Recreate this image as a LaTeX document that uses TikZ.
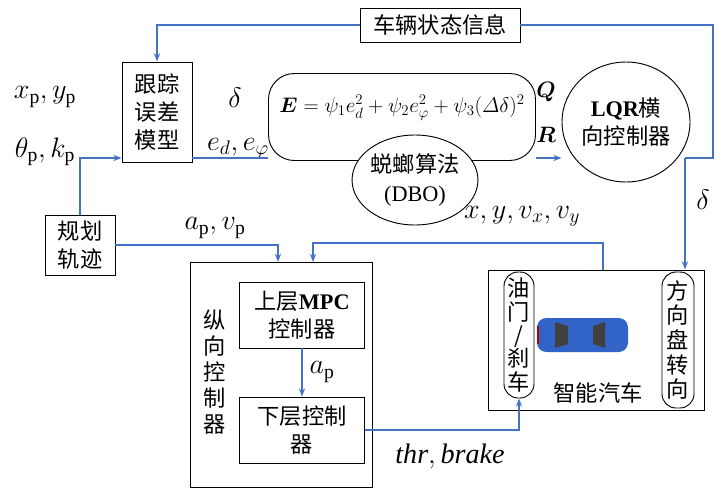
\RequirePackage{fix-cm}
\documentclass[tikz,border=0pt]{standalone}
\usepackage{amsmath}
\usepackage{fontspec}
\setmainfont{Liberation Serif}
\newfontfamily\cjk{Noto Sans CJK SC}
\usetikzlibrary{arrows.meta}
\usetikzlibrary{shapes.geometric}
\definecolor{wireblue}{RGB}{68,114,196}
\definecolor{carblue}{RGB}{50,100,200}

\tikzset{
	box/.style={draw,thick,align=center,font=\cjk\fontsize{19}{24}\selectfont},
	pill/.style={box,rounded corners=12pt},
	oval/.style={ellipse,draw,thick,align=center,font=\cjk\fontsize{19}{24}\selectfont},
	lab/.style={font=\fontsize{24}{26}\selectfont},
	wire/.style={draw=wireblue,line width=1.2pt,-{Stealth[length=7pt]}},
	line/.style={draw=wireblue,line width=1.2pt}
}

\begin{document}
\begin{tikzpicture}[x=0.03cm,y=-0.03cm]
	\useasboundingbox (0,0) rectangle (727,500);
	% blocks
	\node[box,minimum width=160*0.03cm,minimum height=34*0.03cm] (state) at (440,25) {车辆状态信息};
	\node[box,minimum width=70*0.03cm,minimum height=100*0.03cm,inner sep=2pt] (err) at (157,112) {跟踪\\误差\\模型};
	\node[draw,thick,rounded corners=22pt,minimum width=267*0.03cm,minimum height=87*0.03cm] (cost) at (402,117) {};
	\node[font=\fontsize{18}{20}\selectfont] (eq) at (402,108)
		{$\boldsymbol{E}=\psi_1e_d^2+\psi_2e_\varphi^2+\psi_3(\varDelta\delta)^2$};
	\node[oval,fill=white,minimum width=120*0.03cm,minimum height=90*0.03cm,inner sep=0pt] (dbo) at (415,180) {蜕螂算法\\{\rmfamily(DBO)}};
	\node[oval,minimum width=128*0.03cm,minimum height=120*0.03cm,inner sep=0pt] (lqr) at (626,122) {{\rmfamily\bfseries LQR}横\\向控制器};
	\node[box,minimum width=70*0.03cm,minimum height=60*0.03cm,inner sep=2pt] (plan) at (80,245) {规划\\轨迹};
	\node[draw,thick,minimum width=182*0.03cm,minimum height=225*0.03cm] (lon) at (281,375) {};
	\node[font=\cjk\fontsize{19}{22}\selectfont,align=center] (lonlab) at (215,372) {纵\\向\\控\\制\\器};
	\node[box,minimum width=125*0.03cm,minimum height=66*0.03cm,inner sep=2pt] (mpc) at (302,315) {上层{\rmfamily\bfseries MPC}\\控制器};
	\node[box,minimum width=125*0.03cm,minimum height=66*0.03cm,inner sep=2pt] (low) at (302,430) {下层控制\\器};
	\node[draw,thick,minimum width=216*0.03cm,minimum height=140*0.03cm] (car) at (596,340) {};
	\node[pill,minimum width=30*0.03cm,minimum height=126*0.03cm,inner sep=1pt,font=\cjk\fontsize{19}{20}\selectfont] (thr) at (519,335) {油\\门\\/\\刹\\车};
	\node[pill,minimum width=32*0.03cm,minimum height=136*0.03cm,inner sep=1pt,font=\cjk\fontsize{19}{21}\selectfont] (steer) at (678,340) {方\\向\\盘\\转\\向};
	\node[font=\cjk\fontsize{19}{22}\selectfont] (smart) at (598,393) {智能汽车};
	% car
	\fill[carblue,rounded corners=8pt] (537,318) rectangle (628,352);
	\fill[black!75] (555,322) -- (568,326) -- (568,344) -- (555,348) -- cycle;
	\fill[black!75] (605,322) -- (593,326) -- (593,344) -- (605,348) -- cycle;
	\fill[red!70!black] (537,326) rectangle (539,344);
	% labels
	\node[lab] (xy) at (45,97) {$x_{\mathrm{p}},y_{\mathrm{p}}$};
	\node[lab] (tk) at (45,152) {$\theta_{\mathrm{p}},k_{\mathrm{p}}$};
	\node[lab] (d1) at (235,98) {$\delta$};
	\node[lab] (ee) at (238,148) {$e_d,e_\varphi$};
	\node[font=\fontsize{19}{20}\selectfont] (q) at (546,92) {$\boldsymbol{Q}$};
	\node[font=\fontsize{19}{20}\selectfont] (r) at (546,135) {$\boldsymbol{R}$};
	\node[lab] (d2) at (703,200) {$\delta$};
	\node[lab] (av) at (215,228) {$a_{\mathrm{p}},v_{\mathrm{p}}$};
	\node[lab] (xv) at (522,216) {$x,y,v_x,v_y$};
	\node[lab] (ap) at (322,372) {$a_{\mathrm{p}}$};
	\node[lab] (tb) at (450,456) {$\mathit{thr,brake}$};
	% connectors
	\coordinate (lqrout) at (685,158);
	\draw[wire] (state.west) -| (err.north);
	\draw[line] (state.east) -| (713,158) -- (lqrout);
	\draw[wire] (lqrout) -- (lqrout |- car.north);
	\draw[wire] (plan.north) |- (err.west |- 0,158);
	\draw[line] (err.east |- 0,158) -- (cost.west |- 0,158);
	\draw[wire] (cost.east |- 0,158) -- (lqr.west |- 0,158);
	\draw[wire] (plan.east) -| (278,262);
	\draw[wire] (603,270) |- (313,243) -- (313,262);
	\draw[wire] (mpc) -- (low);
	\draw[wire] (low.east) -| (thr.south);
\end{tikzpicture}
\end{document}
